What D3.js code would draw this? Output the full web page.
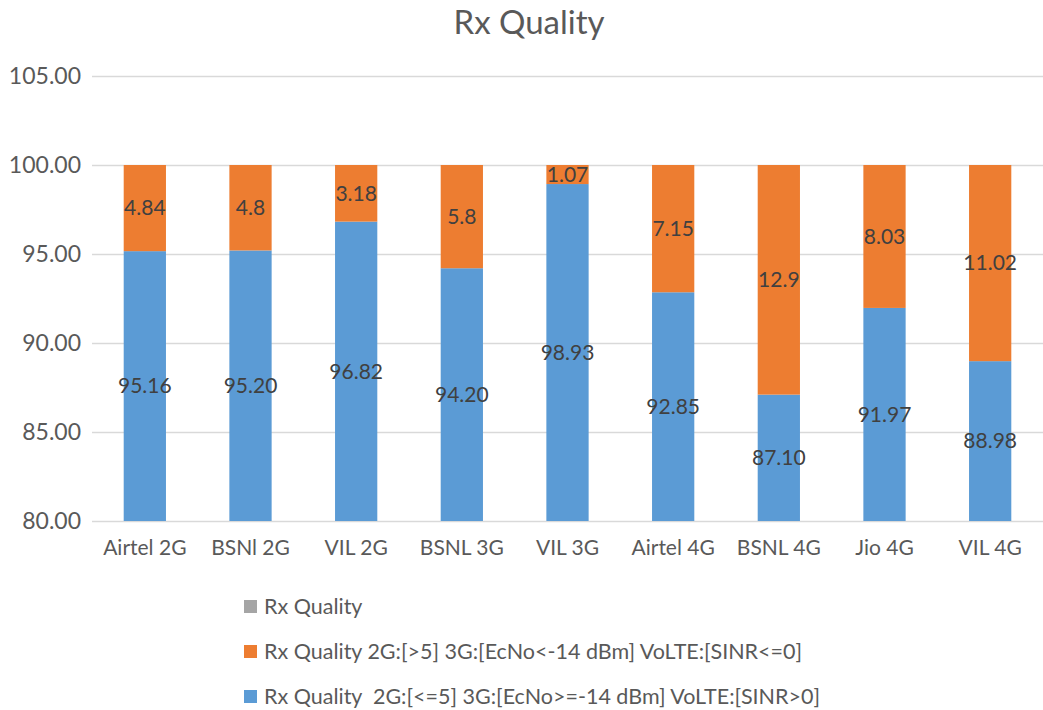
<!DOCTYPE html>
<html>
<head>
<meta charset="utf-8">
<script src="https://d3js.org/d3.v7.min.js"></script>
<style>
  body { margin: 0; background: #fff; }
  text { font-family: Lato, "Open Sans", sans-serif; }
</style>
</head>
<body>
<div id="chart"></div>
<script>
const categories = ["Airtel 2G", "BSNl 2G", "VIL 2G", "BSNL 3G", "VIL 3G", "Airtel 4G", "BSNL 4G", "Jio 4G", "VIL 4G"];
const goodValues = [95.16, 95.20, 96.82, 94.20, 98.93, 92.85, 87.10, 91.97, 88.98];
const badValues = [4.84, 4.8, 3.18, 5.8, 1.07, 7.15, 12.9, 8.03, 11.02];
const badLabels = ["4.84", "4.8", "3.18", "5.8", "1.07", "7.15", "12.9", "8.03", "11.02"];
const yTicks = [80, 85, 90, 95, 100, 105];
const legendNames = [
    "Rx Quality",
    "Rx Quality 2G:[>5] 3G:[EcNo<-14 dBm] VoLTE:[SINR<=0]",
    "Rx Quality\u00a0 2G:[<=5] 3G:[EcNo>=-14 dBm] VoLTE:[SINR>0]"
];

const w = 1043;
const h = 710;
const blue = "#5B9BD5";
const orange = "#ED7D31";
const gray = "#A5A5A5";

const svg = d3.select("#chart")
    .append("svg")
    .attr("width", w)
    .attr("height", h);

const x = d3.scaleBand()
    .domain(categories)
    .range([92, 1043])
    .paddingInner(0.6)
    .paddingOuter(0.3);

const y = d3.scaleLinear()
    .domain([80, 105])
    .range([521, 76]);

// title
svg.append("text")
    .attr("x", 529)
    .attr("y", 34)
    .attr("text-anchor", "middle")
    .attr("fill", "#595959")
    .style("font-size", "33px")
    .text("Rx Quality");

// grid + y labels
const yAxis = d3.axisLeft(y)
    .tickValues(yTicks)
    .tickSize(-(1043 - 92))
    .tickFormat(d3.format(".2f"));
const yAxisLine = svg.append("g")
    .attr("transform", `translate(${92}, 0)`)
    .call(yAxis);
yAxisLine.select(".domain").remove();
yAxisLine.selectAll("line").attr("stroke", "#d9d9d9").attr("stroke-width", 1.3);
yAxisLine.selectAll("text")
    .attr("x", -11)
    .attr("fill", "#595959")
    .style("font-size", "23px")
    .style("font-family", "Lato, 'Open Sans', sans-serif");

// x labels
const xAxis = d3.axisBottom(x).tickSize(0);
const xAxisLine = svg.append("g")
    .attr("transform", `translate(0, ${521})`)
    .call(xAxis);
xAxisLine.select(".domain").remove();
xAxisLine.selectAll("text")
    .attr("y", 19)
    .attr("fill", "#595959")
    .style("font-size", "21px")
    .style("font-family", "Lato, 'Open Sans', sans-serif");

// bars
const data = categories.map((c, i) => ({ c, good: goodValues[i], bad: badValues[i], badLabel: badLabels[i] }));

svg.selectAll(".good")
    .data(data)
    .enter()
    .append("rect")
    .attr("class", "good")
    .attr("x", d => x(d.c))
    .attr("width", x.bandwidth())
    .attr("y", d => y(d.good))
    .attr("height", d => y(80) - y(d.good))
    .attr("fill", blue);

svg.selectAll(".bad")
    .data(data)
    .enter()
    .append("rect")
    .attr("class", "bad")
    .attr("x", d => x(d.c))
    .attr("width", x.bandwidth())
    .attr("y", d => y(d.good + d.bad))
    .attr("height", d => y(d.good) - y(d.good + d.bad))
    .attr("fill", orange);

// labels
svg.selectAll(".goodLabel")
    .data(data)
    .enter()
    .append("text")
    .attr("x", d => x(d.c) + x.bandwidth() / 2)
    .attr("y", d => (y(80) + y(d.good)) / 2)
    .attr("dy", "0.35em")
    .attr("text-anchor", "middle")
    .attr("fill", "#404040")
    .style("font-size", "21px")
    .text(d => d.good.toFixed(2));

svg.selectAll(".badLabel")
    .data(data)
    .enter()
    .append("text")
    .attr("x", d => x(d.c) + x.bandwidth() / 2)
    .attr("y", d => (y(d.good) + y(d.good + d.bad)) / 2)
    .attr("dy", "0.35em")
    .attr("text-anchor", "middle")
    .attr("fill", "#404040")
    .style("font-size", "21px")
    .text(d => d.badLabel);

// legend
const legendColors = [gray, orange, blue];
const legend = svg.selectAll(".legend")
    .data(legendNames)
    .enter()
    .append("g")
    .attr("transform", (d, i) => `translate(${244}, ${606 + i * 45})`);
legend.append("rect")
    .attr("x", 0)
    .attr("y", -6)
    .attr("width", 13)
    .attr("height", 13)
    .attr("fill", (d, i) => legendColors[i]);
legend.append("text")
    .attr("x", 20)
    .attr("dy", "0.35em")
    .attr("fill", "#595959")
    .style("font-size", "21.5px")
    .text(d => d);
</script>
</body>
</html>
